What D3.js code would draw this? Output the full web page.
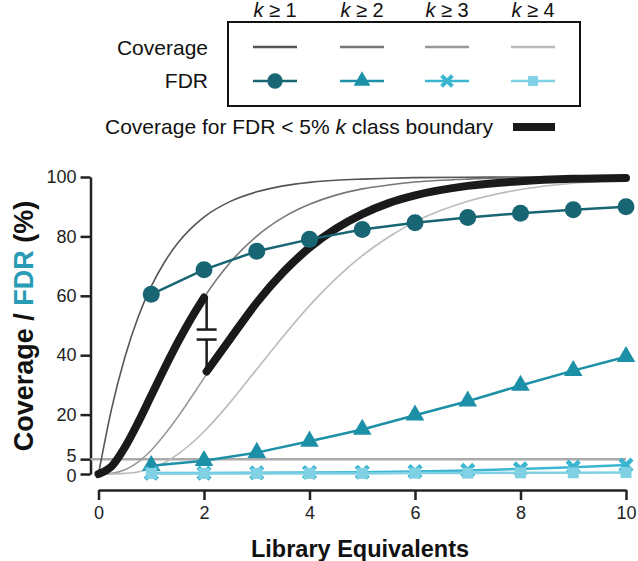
<!DOCTYPE html>
<html>
<head>
<meta charset="utf-8">
<script src="https://cdn.jsdelivr.net/npm/d3@7"></script>
<style>
  body { margin: 0; background: #fff; }
  svg { font-family: "Liberation Sans", Arial, sans-serif; }
  .axis path, .axis line { stroke: #222; stroke-width: 2.5; }
  .axis text { font-size: 18px; fill: #222; }
</style>
</head>
<body>
<div id="chart"></div>
<script>
// x positions the coverage curves were read at
const covX = [0, 0.25, 0.5, 0.75, 1, 1.25, 1.5, 1.75, 2, 2.5, 3, 3.5, 4, 4.5, 5, 5.5, 6, 7, 8, 9, 10];
const covK1 = [0, 22.1, 39.3, 52.8, 63.2, 71.3, 77.7, 82.6, 86.5, 91.8, 95.0, 97.0, 98.2, 98.9, 99.3, 99.6, 99.8, 99.9, 100, 100, 100];
const covK2 = [0, 2.6, 9.0, 17.3, 26.4, 35.5, 44.2, 52.2, 59.4, 71.3, 80.1, 86.4, 90.8, 93.9, 96.0, 97.3, 98.3, 99.3, 99.7, 99.9, 100];
const covK3 = [0, 0.2, 1.4, 4.0, 8.0, 13.2, 19.1, 25.6, 32.3, 45.6, 57.7, 67.9, 76.2, 82.6, 87.5, 91.2, 93.8, 97.0, 98.6, 99.4, 99.7];
const covK4 = [0, 0, 0.2, 0.7, 1.9, 3.8, 6.6, 10.1, 14.3, 24.2, 35.3, 46.3, 56.7, 65.8, 73.5, 79.8, 84.9, 91.8, 95.8, 97.9, 99.0];

// thick boundary line, two pieces split at the k class change
const boundX1 = [0, 0.25, 0.5, 0.75, 1, 1.25, 1.5, 1.75, 2];
const boundY1 = [0, 2.6, 9.0, 17.3, 26.4, 35.5, 44.2, 52.2, 59.4];
const boundX2 = [2.05, 2.5, 3, 3.5, 4, 4.5, 5, 5.5, 6, 7, 8, 9, 10];
const boundY2 = [34.5, 45.6, 57.7, 67.9, 76.2, 82.6, 87.5, 91.2, 93.8, 97.0, 98.6, 99.4, 99.7];

// FDR, measured at whole library equivalents
const fdrX = [1, 2, 3, 4, 5, 6, 7, 8, 9, 10];
const fdrK1 = [60.5, 68.8, 75, 79, 82.3, 84.6, 86.4, 87.8, 89, 90];
const fdrK2 = [2.8, 4.5, 7.2, 11, 15, 19.8, 24.5, 29.8, 34.8, 39.5];
const fdrK3 = [0.3, 0.3, 0.4, 0.5, 0.6, 0.8, 1.2, 1.7, 2.3, 3.0];
const fdrK4 = [0.2, 0.2, 0.2, 0.2, 0.2, 0.3, 0.3, 0.4, 0.4, 0.5];

const kLabels = ["1", "2", "3", "4"];
const yTicks = [0, 5, 20, 40, 60, 80, 100];
const xTicks = [0, 2, 4, 6, 8, 10];
const fdrLimit = 5;

const grays = ["#555", "#777", "#999", "#bbb"];
const teals = ["#186574", "#1c90a7", "#3cb6d0", "#80d1e4"];
const shapes = ["circle", "triangle", "cross", "square"];

const margin = { top: 177, right: 12, bottom: 87, left: 98.5 },
  width = 638 - margin.left - margin.right,
  height = 561 - margin.top - margin.bottom;

const svg = d3.select("#chart").append("svg")
  .attr("width", 638)
  .attr("height", 561);

const g = svg.append("g")
  .attr("transform", "translate(" + margin.left + "," + margin.top + ")");

const x = d3.scaleLinear().domain([0, 10]).range([0, 527.5]);
const y = d3.scaleLinear().domain([0, 100]).range([height, 0]);

// axes, pulled away from the data
const yAxis = g.append("g")
  .attr("class", "axis")
  .attr("transform", "translate(-8,0)")
  .call(d3.axisLeft(y).tickValues(yTicks).tickSize(10).tickSizeOuter(0).tickPadding(4));
yAxis.selectAll(".tick")
  .filter(d => d === fdrLimit)
  .call(t => {
    t.select("line").attr("stroke", "#aaa");
    t.select("text").attr("fill", "#aaa").attr("y", -3);
  });
yAxis.selectAll(".tick")
  .filter(d => d === 0)
  .select("text").attr("y", 2);

g.append("g")
  .attr("class", "axis")
  .attr("transform", "translate(0," + (height + 16) + ")")
  .call(d3.axisBottom(x).tickValues(xTicks).tickSize(10).tickSizeOuter(0).tickPadding(6));

// 5% reference line
g.append("line")
  .attr("x1", -8).attr("x2", x(10))
  .attr("y1", y(fdrLimit)).attr("y2", y(fdrLimit))
  .attr("stroke", "#aaa")
  .attr("stroke-width", 2.5);

const line = d3.line()
  .x(d => x(d[0]))
  .y(d => y(d[1]))
  .curve(d3.curveMonotoneX);

// coverage curves
[covK1, covK2, covK3, covK4].forEach((vals, i) => {
  g.append("path")
    .datum(covX.map((v, j) => [v, vals[j]]))
    .attr("fill", "none")
    .attr("stroke", grays[i])
    .attr("stroke-width", 1.6)
    .attr("d", line);
});

// coverage for FDR < 5%
[[boundX1, boundY1], [boundX2, boundY2]].forEach(([xs, ys]) => {
  g.append("path")
    .datum(xs.map((v, j) => [v, ys[j]]))
    .attr("fill", "none")
    .attr("stroke", "#1a1a1a")
    .attr("stroke-width", 8)
    .attr("stroke-linecap", "round")
    .attr("d", line);
});

// break marker between the two pieces
const bx = x(boundX2[0]);
const yTop = y(boundY1[boundY1.length - 1]), yBot = y(boundY2[0]);
const yMid = (yTop + yBot) / 2;
const brk = g.append("g").attr("stroke", "#1a1a1a").attr("stroke-width", 2.5);
brk.append("line").attr("x1", bx).attr("x2", bx).attr("y1", yTop).attr("y2", yMid - 5);
brk.append("line").attr("x1", bx).attr("x2", bx).attr("y1", yMid + 5).attr("y2", yBot);
brk.append("line").attr("x1", bx - 10).attr("x2", bx + 10).attr("y1", yMid - 5).attr("y2", yMid - 5);
brk.append("line").attr("x1", bx - 10).attr("x2", bx + 10).attr("y1", yMid + 5).attr("y2", yMid + 5);

const lineStraight = d3.line()
  .x(d => x(d[0]))
  .y(d => y(d[1]));

function drawMarker(sel, shape, color, scale) {
  const s = scale || 1;
  if (shape === "circle") {
    sel.append("circle").attr("r", 8.5 * s).attr("fill", color);
  } else if (shape === "triangle") {
    sel.append("path").attr("d", d3.symbol(d3.symbolTriangle, 150 * s * s)()).attr("fill", color);
  } else if (shape === "cross") {
    const a = 6 * s;
    sel.append("path")
      .attr("d", `M${-a},${-a}L${a},${a}M${-a},${a}L${a},${-a}`)
      .attr("stroke", color).attr("stroke-width", 4.5 * s).attr("fill", "none");
  } else {
    sel.append("rect").attr("x", -5.5 * s).attr("y", -5.5 * s)
      .attr("width", 11 * s).attr("height", 11 * s).attr("fill", color);
  }
}

// FDR series; draw k>=4 last so squares sit over the crosses
const fdrSeries = [fdrK1, fdrK2, fdrK3, fdrK4];
[1, 0, 2, 3].forEach(i => {
  const pts = fdrX.map((v, j) => [v, fdrSeries[i][j]]);
  g.append("path")
    .datum(pts)
    .attr("fill", "none")
    .attr("stroke", teals[i])
    .attr("stroke-width", 2.5)
    .attr("d", lineStraight);
  g.selectAll(null)
    .data(pts)
    .join("g")
    .attr("transform", d => `translate(${x(d[0])},${y(d[1])})`)
    .each(function () { drawMarker(d3.select(this), shapes[i], teals[i]); });
});

// axis titles
svg.append("text")
  .attr("x", 360).attr("y", 557)
  .attr("text-anchor", "middle")
  .attr("font-size", 23.5).attr("font-weight", "bold").attr("fill", "#111")
  .text("Library Equivalents");

const yt = svg.append("text")
  .attr("transform", "translate(33,326) rotate(-90)")
  .attr("text-anchor", "middle")
  .attr("font-size", 27).attr("font-weight", "bold").attr("fill", "#111");
yt.append("tspan").text("Coverage / ");
yt.append("tspan").attr("fill", "#2a9bb5").text("FDR");
yt.append("tspan").text(" (%)");

// legend
const legend = svg.append("g");
const colX = [275, 362, 447, 533];

legend.append("rect")
  .attr("x", 228).attr("y", 22).attr("width", 352).attr("height", 84)
  .attr("fill", "none").attr("stroke", "#111").attr("stroke-width", 2);

kLabels.forEach((k, i) => {
  const t = legend.append("text")
    .attr("x", colX[i]).attr("y", 17)
    .attr("text-anchor", "middle")
    .attr("font-size", 20).attr("fill", "#111");
  t.append("tspan").attr("font-style", "italic").text("k");
  t.append("tspan").text(" \u2265 " + k);

  legend.append("line")
    .attr("x1", colX[i] - 22).attr("x2", colX[i] + 22)
    .attr("y1", 47).attr("y2", 47)
    .attr("stroke", grays[i]).attr("stroke-width", 2.5);

  legend.append("line")
    .attr("x1", colX[i] - 22).attr("x2", colX[i] + 22)
    .attr("y1", 81).attr("y2", 81)
    .attr("stroke", teals[i]).attr("stroke-width", 2.5);
  const m = legend.append("g").attr("transform", `translate(${colX[i]},81)`);
  drawMarker(m, shapes[i], teals[i], 0.9);
});

legend.append("text")
  .attr("x", 208).attr("y", 55)
  .attr("text-anchor", "end").attr("font-size", 21).attr("fill", "#111")
  .text("Coverage");
legend.append("text")
  .attr("x", 208).attr("y", 88)
  .attr("text-anchor", "end").attr("font-size", 21).attr("fill", "#111")
  .text("FDR");

const bt = legend.append("text")
  .attr("x", 105).attr("y", 134)
  .attr("font-size", 21).attr("fill", "#111");
bt.append("tspan").text("Coverage for FDR < 5% ");
bt.append("tspan").attr("font-style", "italic").text("k");
bt.append("tspan").text(" class boundary");

legend.append("line")
  .attr("x1", 513).attr("x2", 555)
  .attr("y1", 127).attr("y2", 127)
  .attr("stroke", "#1a1a1a").attr("stroke-width", 8);
</script>
</body>
</html>
